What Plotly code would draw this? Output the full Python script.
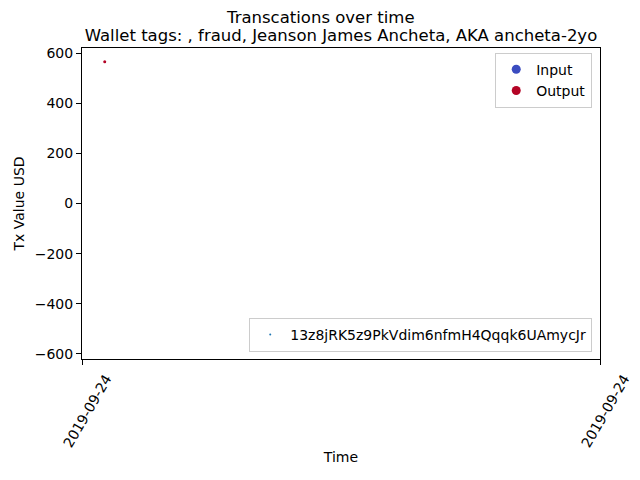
import plotly.graph_objects as go

# Data
times = ["2019-09-24 10:02:38"]
values = [565]
directions = ["Output"]
wallet = "13z8jRK5z9PkVdim6nfmH4Qqqk6UAmycJr"
x_range = ["2019-09-24 10:00:00", "2019-09-24 11:00:00"]
tick_labels = ["2019-09-24", "2019-09-24"]
y_ticks = [-600, -400, -200, 0, 200, 400, 600]

colors = {"Input": "#3b4cc0", "Output": "#b40426"}
font = "DejaVu Sans"

fig = go.Figure()

# actual data point
fig.add_trace(go.Scatter(
    x=times, y=values, mode="markers",
    marker=dict(size=3, color=[colors[d] for d in directions], line=dict(width=0)),
    showlegend=False, hoverinfo="skip"))

# legend 1 entries
for name in ["Input", "Output"]:
    fig.add_trace(go.Scatter(
        x=[None], y=[None], mode="markers", name=name,
        marker=dict(size=9, color=colors[name]), legend="legend"))

# legend 2 entry
fig.add_trace(go.Scatter(
    x=[None], y=[None], mode="markers", name=wallet,
    marker=dict(size=2, color="#1f77b4"), legend="legend2"))

fig.update_layout(
    width=640, height=480,
    margin=dict(l=82, r=40, t=48, b=121, autoexpand=False),
    paper_bgcolor="white", plot_bgcolor="white",
    font=dict(family=font, size=14, color="black"),
    showlegend=True,
    legend=dict(x=0.985, y=0.985, xanchor="right", yanchor="top",
                bordercolor="#cccccc", borderwidth=1, bgcolor="white",
                font=dict(size=14), itemwidth=30, tracegroupgap=0),
    legend2=dict(x=0.985, y=0.0225, xanchor="right", yanchor="bottom",
                 bordercolor="#cccccc", borderwidth=1, bgcolor="white",
                 font=dict(size=14), itemwidth=30),
    annotations=[
        dict(text="Transcations over time", x=(320 - 82) / 518, y=(359 - 17) / 311,
             xref="paper", yref="paper",
             xanchor="center", yanchor="middle", showarrow=False, font=dict(size=16.5)),
    ],
    title=dict(text="Wallet tags: , fraud, Jeanson James Ancheta, AKA ancheta-2yo",
               x=(82 + 600) / 2 / 640, xanchor="center", y=1 - 35 / 480, yanchor="middle",
               font=dict(size=16.5, family=font, color="black")),
)

fig.update_xaxes(
    type="date", range=x_range, tickvals=x_range, ticktext=tick_labels,
    tickangle=-60, ticks="outside", ticklen=5, tickcolor="black",
    ticklabelshift=24, automargin=False,
    showline=True, linecolor="black", linewidth=1, mirror=True,
    showgrid=False, zeroline=False,
    title=dict(text="Time", font=dict(size=14), standoff=2),
    tickfont=dict(size=14))
fig.update_yaxes(
    range=[-620, 620], tickvals=y_ticks, ticktext=[str(v).replace("-", "−") for v in y_ticks],
    ticks="outside", ticklen=5, tickcolor="black", automargin=False,
    showline=True, linecolor="black", linewidth=1, mirror=True,
    showgrid=False, zeroline=False,
    title=dict(text="Tx Value USD", font=dict(size=14), standoff=6),
    tickfont=dict(size=14))

fig.write_html("out.html")
